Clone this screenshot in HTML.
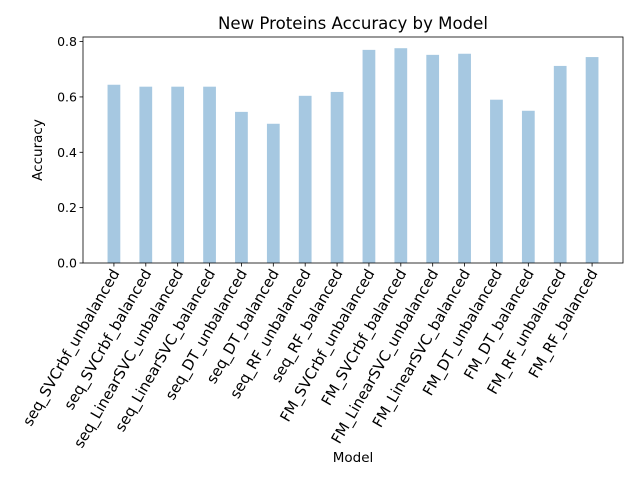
<!DOCTYPE html>
<html><head><meta charset="utf-8"><style>body{margin:0;background:#fff}svg{display:block;font-family:"DejaVu Sans","Liberation Sans",sans-serif}</style></head>
<body>
<svg id="c" width="640" height="480"></svg>
<script>
const categories=["seq_SVCrbf_unbalanced","seq_SVCrbf_balanced","seq_LinearSVC_unbalanced","seq_LinearSVC_balanced","seq_DT_unbalanced","seq_DT_balanced","seq_RF_unbalanced","seq_RF_balanced","FM_SVCrbf_unbalanced","FM_SVCrbf_balanced","FM_LinearSVC_unbalanced","FM_LinearSVC_balanced","FM_DT_unbalanced","FM_DT_balanced","FM_RF_unbalanced","FM_RF_balanced"];
const accuracy=[0.644,0.637,0.637,0.637,0.546,0.503,0.604,0.618,0.770,0.776,0.752,0.756,0.590,0.550,0.712,0.744];
const yTicks=[0,0.2,0.4,0.6,0.8];
const NS="http://www.w3.org/2000/svg";
const svg=document.getElementById('c');
const L=83,R=623,T=37,B=263,bw=0.4;
const xmin=-0.2-0.77,xmax=15.2+0.77;
const x=v=>L+(v-xmin)/(xmax-xmin)*(R-L);
const y=v=>B-v/0.8165*(B-T);
function mk(t,a,p){const e=document.createElementNS(NS,t);for(const k in a)e.setAttribute(k,a[k]);(p||svg).appendChild(e);return e;}
accuracy.forEach((v,i)=>{
 const r=mk('rect',{x:x(i-bw/2),y:y(v),width:x(bw)-x(0),height:B-y(v),fill:'#a6c8e1'});
 
 
 mk('line',{x1:x(i),x2:x(i),y1:B,y2:B+3.5,stroke:'#000','stroke-width':0.8});
 const t=mk('text',{x:0,y:0,'font-size':14.8,'text-anchor':'end',transform:`translate(${x(i)+6},${B+10}) rotate(-60)`});
 t.textContent=categories[i];
 
 
});
yTicks.forEach(v=>{
 mk('line',{x1:L-3.5,x2:L,y1:y(v),y2:y(v),stroke:'#000','stroke-width':0.8});
 const t=mk('text',{x:L-6,y:y(v)+4.5,'font-size':12.5,'text-anchor':'end'});
 t.textContent=v.toFixed(1);
 
 
});
const f=mk('rect',{x:L,y:T,width:R-L,height:B-T,fill:'none',stroke:'#000','stroke-width':0.8});


const ti=mk('text',{x:(L+R)/2,y:29,'font-size':16.6,'text-anchor':'middle'});ti.textContent='New Proteins Accuracy by Model';


const xl=mk('text',{x:(L+R)/2,y:462,'font-size':13.5,'text-anchor':'middle'});xl.textContent='Model';


const yl=mk('text',{x:0,y:0,'font-size':13.5,'text-anchor':'middle',transform:`translate(42,${(T+B)/2}) rotate(-90)`});yl.textContent='Accuracy';


</script>
</body></html>
